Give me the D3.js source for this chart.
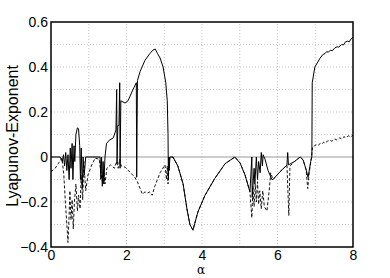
<!DOCTYPE html>
<html>
<head>
<meta charset="utf-8">
<script src="https://cdn.jsdelivr.net/npm/d3@7"></script>
<style>
  body { margin: 0; background: #fff; }
  svg text { font-family: "Liberation Sans", Arial, sans-serif; }
</style>
</head>
<body>
<div id="chart"></div>
<script>
// largest exponent (solid line), [alpha, value]
const firstExponent = [
  [0.00, 0.0], [0.24, 0.0], [0.30, -0.02], [0.33, 0.01], [0.36, -0.04], [0.39, 0.02],
  [0.42, -0.06], [0.45, 0.01], [0.48, -0.10], [0.51, 0.04], [0.53, -0.05], [0.56, 0.06],
  [0.58, -0.10], [0.61, 0.05], [0.63, -0.02], [0.66, 0.10], [0.70, 0.13], [0.73, 0.125],
  [0.76, 0.05], [0.78, -0.10], [0.80, 0.04], [0.83, -0.14], [0.85, 0.0], [0.88, -0.08],
  [0.92, 0.0], [1.30, 0.0], [1.32, -0.10], [1.34, 0.0], [1.36, -0.13], [1.38, -0.02],
  [1.40, -0.12], [1.43, 0.0], [1.47, 0.06], [1.55, 0.075], [1.65, 0.085], [1.72, 0.12],
  [1.74, 0.30], [1.75, -0.03], [1.77, 0.14], [1.80, 0.14], [1.82, 0.33], [1.83, -0.05],
  [1.85, 0.25], [1.96, 0.24], [2.04, 0.25], [2.12, 0.28], [2.20, 0.31], [2.26, 0.33],
  [2.27, -0.09], [2.29, 0.34], [2.36, 0.38], [2.49, 0.43], [2.62, 0.46], [2.70, 0.475],
  [2.76, 0.48], [2.82, 0.46], [2.89, 0.44], [2.97, 0.40], [3.04, 0.33], [3.08, 0.25],
  [3.10, 0.10], [3.11, -0.10], [3.12, 0.0], [3.13, -0.06], [3.15, 0.0], [3.23, 0.0],
  [3.36, -0.04], [3.50, -0.12], [3.60, -0.23], [3.68, -0.30], [3.76, -0.325], [3.89, -0.245],
  [4.08, -0.17], [4.34, -0.095], [4.61, -0.03], [4.87, 0.0], [5.01, -0.027], [5.14, -0.08],
  [5.27, -0.155], [5.32, 0.0], [5.33, -0.18], [5.38, -0.05], [5.40, -0.12], [5.44, 0.0],
  [5.47, -0.10], [5.50, -0.02], [5.54, -0.07], [5.57, 0.02], [5.60, -0.04], [5.62, 0.01],
  [5.67, -0.01], [5.75, -0.06], [5.85, -0.10], [5.88, -0.10], [6.07, -0.065], [6.25, -0.036],
  [6.27, 0.02], [6.29, -0.035], [6.45, -0.02], [6.60, 0.0], [6.68, -0.013], [6.76, -0.058],
  [6.81, -0.09], [6.88, -0.02], [6.91, 0.0], [6.92, 0.33], [6.99, 0.40], [7.13, 0.44],
  [7.20, 0.455], [7.26, 0.46], [7.30, 0.468], [7.35, 0.466], [7.40, 0.475], [7.45, 0.472],
  [7.52, 0.485], [7.58, 0.49], [7.62, 0.488], [7.70, 0.50], [7.75, 0.498], [7.79, 0.51],
  [7.85, 0.515], [7.90, 0.512], [7.95, 0.525], [8.00, 0.533]
];

// second exponent (dashed line)
const secondExponent = [
  [0.00, -0.065], [0.11, -0.05], [0.19, -0.03], [0.29, -0.005], [0.34, -0.08], [0.38, -0.20],
  [0.42, -0.30], [0.45, -0.38], [0.48, -0.26], [0.50, -0.15], [0.53, -0.28], [0.56, -0.19],
  [0.59, -0.32], [0.62, -0.20], [0.66, -0.12], [0.70, -0.24], [0.73, -0.17], [0.77, -0.23],
  [0.80, -0.08], [0.84, -0.19], [0.87, -0.02], [0.92, -0.15], [0.98, -0.08], [1.08, -0.035],
  [1.17, -0.005], [1.28, -0.01], [1.33, -0.08], [1.37, -0.12], [1.40, -0.06], [1.43, -0.12],
  [1.48, -0.05], [1.58, -0.035], [1.68, -0.05], [1.74, -0.02], [1.78, -0.05], [1.82, -0.01],
  [1.86, -0.04], [1.96, -0.045], [2.09, -0.067], [2.22, -0.09], [2.29, -0.11], [2.36, -0.14],
  [2.42, -0.165], [2.49, -0.155], [2.56, -0.16], [2.62, -0.155], [2.68, -0.17], [2.75, -0.13],
  [2.89, -0.07], [3.02, -0.035], [3.06, -0.10], [3.08, -0.04], [3.10, -0.12], [3.13, -0.02],
  [3.15, 0.0], [3.23, 0.0], [3.36, -0.04], [3.50, -0.12], [3.60, -0.23], [3.68, -0.30],
  [3.76, -0.325], [3.89, -0.245], [4.08, -0.17], [4.34, -0.095], [4.61, -0.03], [4.87, 0.0],
  [5.01, -0.027], [5.14, -0.08], [5.27, -0.155], [5.32, -0.27], [5.35, -0.13], [5.38, -0.22],
  [5.41, -0.12], [5.44, -0.20], [5.47, -0.11], [5.50, -0.21], [5.53, -0.15], [5.57, -0.23],
  [5.61, -0.15], [5.65, -0.22], [5.72, -0.24], [5.78, -0.15], [5.82, -0.07], [5.88, -0.10],
  [6.07, -0.065], [6.25, -0.036], [6.30, -0.26], [6.33, -0.04], [6.45, -0.02], [6.60, 0.0],
  [6.68, -0.013], [6.76, -0.058], [6.80, -0.14], [6.84, -0.07], [6.90, 0.0], [6.93, 0.045],
  [6.98, 0.05], [7.03, 0.055], [7.08, 0.052], [7.13, 0.06], [7.18, 0.058], [7.22, 0.066],
  [7.26, 0.062], [7.32, 0.07], [7.39, 0.075], [7.44, 0.07], [7.52, 0.08], [7.57, 0.076],
  [7.65, 0.085], [7.70, 0.08], [7.76, 0.09], [7.82, 0.086], [7.88, 0.094], [7.94, 0.09],
  [8.00, 0.097]
];

const xTicks = [0, 2, 4, 6, 8];
const yTicks = [-0.4, -0.2, 0, 0.2, 0.4, 0.6];
const xGrid = [1, 2, 3, 4, 5, 6, 7];
const yGrid = [-0.3, -0.2, -0.1, 0.1, 0.2, 0.3, 0.4, 0.5];

const width = 390, height = 278;
const margin = { top: 22, right: 37, bottom: 31, left: 51 };

const svg = d3.select("#chart").append("svg")
  .attr("width", width)
  .attr("height", height);

const x = d3.scaleLinear().domain([0, 8]).range([margin.left, width - margin.right]);
const y = d3.scaleLinear().domain([-0.4, 0.6]).range([height - margin.bottom, margin.top]);

// dotted grid
svg.append("g").selectAll("line.vg")
  .data(xGrid).enter().append("line")
  .attr("x1", d => x(d)).attr("x2", d => x(d))
  .attr("y1", y(-0.4)).attr("y2", y(0.6))
  .attr("stroke", "#c8c8c8").attr("stroke-dasharray", "1,2");

svg.append("g").selectAll("line.hg")
  .data(yGrid).enter().append("line")
  .attr("x1", x(0)).attr("x2", x(8))
  .attr("y1", d => y(d)).attr("y2", d => y(d))
  .attr("stroke", "#c8c8c8").attr("stroke-dasharray", "1,2");

// zero line
svg.append("line")
  .attr("x1", x(0)).attr("x2", x(8))
  .attr("y1", y(0)).attr("y2", y(0))
  .attr("stroke", "#999").attr("stroke-width", 1);

const line = d3.line().x(d => x(d[0])).y(d => y(d[1]));

svg.append("path")
  .datum(secondExponent)
  .attr("d", line)
  .attr("fill", "none")
  .attr("stroke", "#111")
  .attr("stroke-width", 1)
  .attr("stroke-dasharray", "3,2");

svg.append("path")
  .datum(firstExponent)
  .attr("d", line)
  .attr("fill", "none")
  .attr("stroke", "#000")
  .attr("stroke-width", 1);

// frame
svg.append("rect")
  .attr("x", x(0)).attr("y", y(0.6))
  .attr("width", x(8) - x(0)).attr("height", y(-0.4) - y(0.6))
  .attr("fill", "none").attr("stroke", "#000").attr("stroke-width", 1.5);

// axes (labels only)
const xAxis = svg.append("g")
  .attr("transform", `translate(0,${y(-0.4)})`)
  .call(d3.axisBottom(x).tickValues(xTicks).tickSize(0).tickPadding(3).tickFormat(d3.format("d")));
xAxis.select(".domain").remove();
xAxis.selectAll("text").attr("font-size", 14).attr("fill", "#000");

const yAxis = svg.append("g")
  .attr("transform", `translate(${x(0)},0)`)
  .call(d3.axisLeft(y).tickValues(yTicks).tickSize(0).tickPadding(3).tickFormat(d => d === 0 ? "0" : d3.format(".1f")(d)));
yAxis.select(".domain").remove();
yAxis.selectAll("text").attr("font-size", 14).attr("fill", "#000");

svg.append("text")
  .attr("x", x(4) - 1)
  .attr("y", 274)
  .attr("text-anchor", "middle")
  .attr("font-size", 12)
  .style("font-family", "'DejaVu Serif', serif")
  .text("α");

svg.append("text")
  .attr("transform", `translate(18,136) rotate(-90)`)
  .attr("text-anchor", "middle")
  .attr("font-size", 16)
  .text("Lyapunov-Exponent");
</script>
</body>
</html>
